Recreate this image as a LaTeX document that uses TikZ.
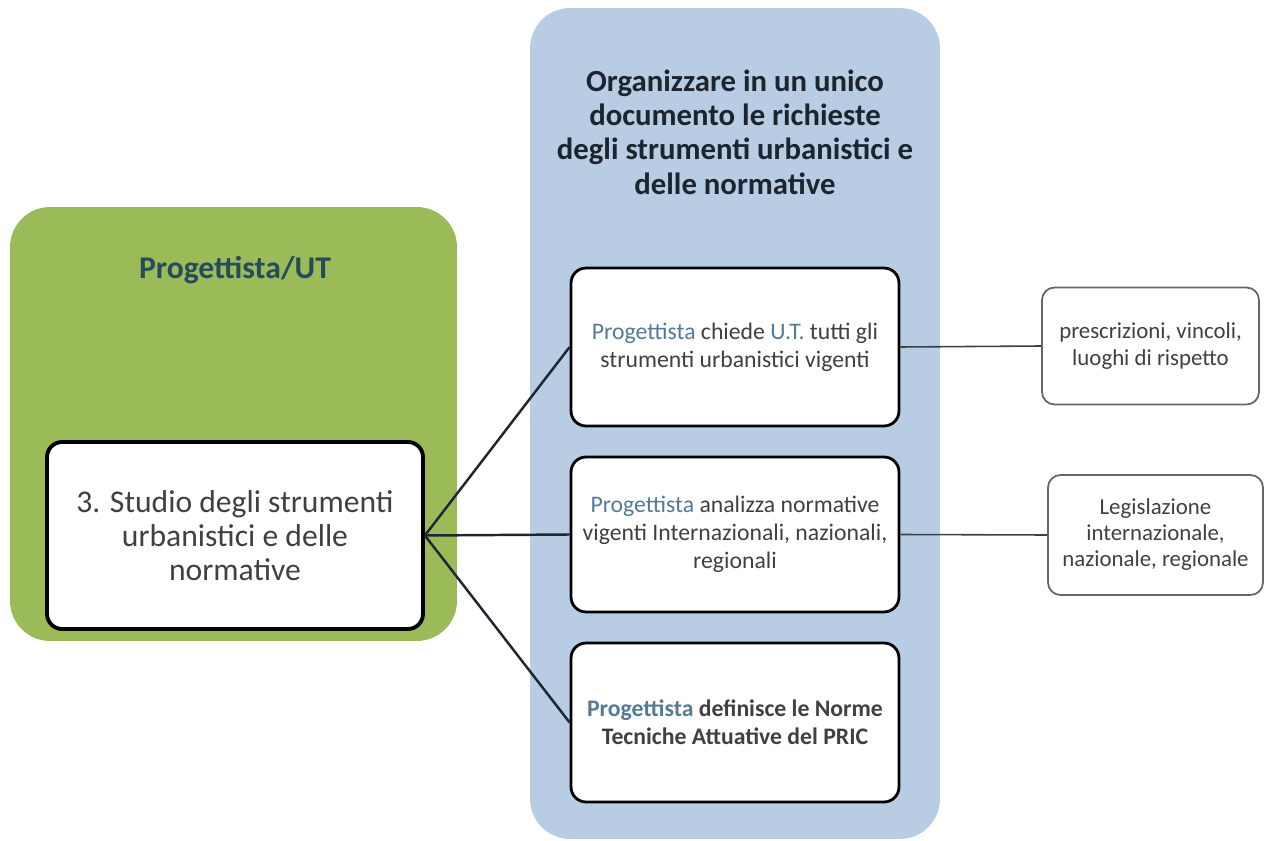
\documentclass[tikz,border=0pt]{standalone}
\usepackage{fontspec}
\setmainfont{Carlito}
\usepackage{xcolor}
\definecolor{lanegreen}{RGB}{155,187,89}
\definecolor{laneblue}{RGB}{184,204,228}
\definecolor{tealtext}{RGB}{36,76,92}
\definecolor{progblue}{RGB}{84,122,150}
\definecolor{bodygray}{RGB}{64,64,64}
\definecolor{titlenavy}{RGB}{28,36,48}
\definecolor{linkgray}{RGB}{30,38,48}

\begin{document}
\begin{tikzpicture}[x=0.02cm, y=-0.02cm,
  lane/.style={rounded corners=0.8cm, draw=none},
  stepbox/.style={draw=black, line width=1.6pt, rounded corners=0.3cm, fill=white, minimum width=6.56cm, align=center, text=bodygray, font=\fontsize{13.5}{16}\selectfont},
  notebox/.style={draw=gray!80!black, line width=1pt, rounded corners=0.25cm, fill=white, align=center, text=bodygray, font=\fontsize{13}{15.5}\selectfont},
  link/.style={draw=linkgray, line width=1.4pt},
  thinlink/.style={draw=gray!50!black, line width=0.9pt}]
  \useasboundingbox (0,0) rectangle (1265,841);

  % swimlanes
  \node[lane, fill=lanegreen, minimum width=8.94cm, minimum height=8.68cm] (green) at (233.5,424) {};
  \node[lane, fill=laneblue, minimum width=8.2cm, minimum height=16.62cm] (blue) at (735,423.5) {};

  \node[text=tealtext, font=\bfseries\fontsize{18}{21}\selectfont] (role) at (235,270) {Progettista/UT};
  \node[text=titlenavy, align=center, font=\bfseries\fontsize{17.5}{19.5}\selectfont] (goal) at (735,132)
    {Organizzare in un unico\\documento le richieste\\degli strumenti urbanistici e\\delle normative};

  % activities
  \node[stepbox, line width=2.2pt, minimum width=7.52cm, minimum height=3.74cm, font=\fontsize{18}{19.5}\selectfont] (study) at (235,535.5)
    {3. Studio degli strumenti\\urbanistici e delle\\normative};
  \node[stepbox, minimum height=3.16cm] (ask) at (735,347)
    {\textcolor{progblue}{Progettista} chiede \textcolor{progblue}{U.T.} tutti gli\\strumenti urbanistici vigenti};
  \node[stepbox, minimum height=3.1cm] (analyse) at (735,534.5)
    {\textcolor{progblue}{Progettista} analizza normative\\vigenti Internazionali, nazionali,\\regionali};
  \node[stepbox, minimum height=3.18cm, font=\bfseries\fontsize{13.5}{16}\selectfont] (define) at (735,722.5)
    {\textcolor{progblue}{Progettista} definisce le Norme\\Tecniche Attuative del PRIC};

  % notes
  \node[notebox, minimum width=4.34cm, minimum height=2.34cm] (limits) at (1150.5,346)
    {prescrizioni, vincoli,\\luoghi di rispetto};
  \node[notebox, minimum width=4.3cm, minimum height=2.4cm, font=\fontsize{13}{14.8}\selectfont] (laws) at (1155.5,535)
    {Legislazione\\internazionale,\\nazionale, regionale};

  \draw[link] (study.east) -- (ask.west);
  \draw[link] (study.east) -- (analyse.west);
  \draw[link] (study.east) -- (define.west);
  \draw[thinlink] (ask.east) -- (limits.west);
  \draw[thinlink] (analyse.east) -- (laws.west);
\end{tikzpicture}
\end{document}
